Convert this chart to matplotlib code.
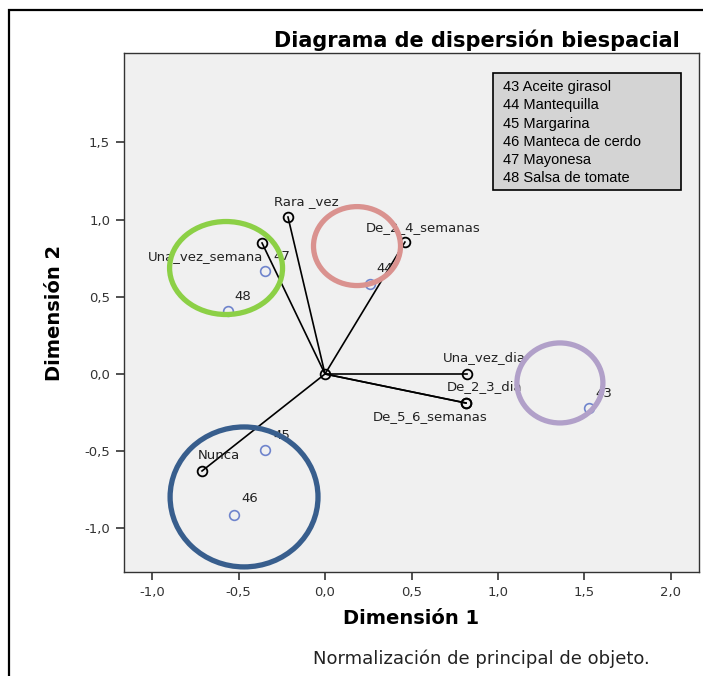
import matplotlib
matplotlib.use("Agg")
import matplotlib.pyplot as plt
from matplotlib.patches import Ellipse, Rectangle

# ---------------- data ----------------
cat_names = ["Rara _vez", "Una_vez_semana", "De_2_4_semanas", "Una_vez_dia",
             "De_2_3_dia", "De_5_6_semanas", "Nunca"]
cat_x = [-0.214, -0.364, 0.462, 0.821, 0.815, 0.815, -0.711]
cat_y = [1.016, 0.848, 0.854, 0.000, -0.188, -0.188, -0.628]

obj_names = ["43", "44", "45", "46", "47", "48"]
obj_x = [1.526, 0.260, -0.347, -0.526, -0.347, -0.561]
obj_y = [-0.220, 0.583, -0.492, -0.913, 0.667, 0.408]

legend_lines = ["43 Aceite girasol", "44 Mantequilla", "45 Margarina",
                "46 Manteca de cerdo", "47 Mayonesa", "48 Salsa de tomate"]

# highlight ellipses: center x, center y, width, height
ell_cx = [-0.572, 0.185, 1.358, -0.468]
ell_cy = [0.686, 0.828, -0.058, -0.796]
ell_w = [0.653, 0.503, 0.497, 0.855]
ell_h = [0.602, 0.511, 0.518, 0.906]
ell_colors = ["#8cd046", "#da928f", "#b1a0c9", "#385e8d"]

x_ticks = [-1.0, -0.5, 0.0, 0.5, 1.0, 1.5, 2.0]
y_ticks = [-1.0, -0.5, 0.0, 0.5, 1.0, 1.5]

# label offsets in pixels (style)
cat_off = {"Rara _vez": (18, 16), "Una_vez_semana": (-56, -14),
           "De_2_4_semanas": (18, 15), "Una_vez_dia": (17, 16),
           "De_2_3_dia": (19, 16), "De_5_6_semanas": (-36, -14), "Nunca": (17, 15)}
obj_off = {"43": (15, 14), "44": (15, 15), "45": (17, 14),
           "46": (16, 17), "47": (17, 14), "48": (15, 14)}

# ---------------- figure ----------------
fig = plt.figure(figsize=(7.03, 6.76), dpi=100)
fig.patch.set_facecolor("white")

# outer frame (only left and top edges visible)
fig.patches.append(Rectangle((9 / 703, -0.05), 1.0, 1.05 - 10 / 676,
                             transform=fig.transFigure, fill=False,
                             edgecolor="black", linewidth=1.6))

ax = fig.add_axes([124 / 703, 1 - 572 / 676, 575 / 703, 519 / 676])
ax.set_facecolor("#f0f0f0")
ax.set_xlim(-1.162, 2.162)
ax.set_ylim(-1.282, 2.078)

# vectors from origin
for x, y in zip(cat_x, cat_y):
    ax.plot([0, x], [0, y], color="black", linewidth=1.2, zorder=2)

ax.plot([0], [0], marker="o", markersize=7, markerfacecolor="none",
        markeredgecolor="black", markeredgewidth=1.3, zorder=3)
ax.plot(cat_x, cat_y, linestyle="none", marker="o", markersize=7,
        markerfacecolor="none", markeredgecolor="black", markeredgewidth=1.3, zorder=3)
ax.plot(obj_x, obj_y, linestyle="none", marker="o", markersize=7,
        markerfacecolor="none", markeredgecolor="#6f84cc", markeredgewidth=1.2, zorder=3)

lab_font = dict(fontsize=9.5, color="#222222", ha="center", va="center",
                family="DejaVu Sans")
for n, x, y in zip(cat_names, cat_x, cat_y):
    ax.annotate(n, (x, y), xytext=cat_off[n], textcoords="offset pixels",
                zorder=4, **lab_font)
for n, x, y in zip(obj_names, obj_x, obj_y):
    ax.annotate(n, (x, y), xytext=obj_off[n], textcoords="offset pixels",
                zorder=4, **lab_font)

for cx, cy, w, h, c in zip(ell_cx, ell_cy, ell_w, ell_h, ell_colors):
    ax.add_patch(Ellipse((cx, cy), w, h, fill=False, edgecolor=c,
                         linewidth=3.8, zorder=5))

ax.set_xticks(x_ticks)
ax.set_yticks(y_ticks)
ax.set_xticklabels([f"{v:.1f}".replace(".", ",") for v in x_ticks])
ax.set_yticklabels([f"{v:.1f}".replace(".", ",") for v in y_ticks])
ax.tick_params(direction="out", length=6, width=1.2, labelsize=9.5,
               colors="#333333", pad=4)
for s in ax.spines.values():
    s.set_linewidth(1.0)
    s.set_color("#333333")

ax.set_xlabel("Dimensión 1", fontsize=14, fontweight="bold", labelpad=7)
ax.set_ylabel("Dimensión 2", fontsize=14, fontweight="bold", labelpad=15)

fig.text(680 / 703, 1 - 47 / 676, "Diagrama de dispersión biespacial",
         ha="right", va="baseline", fontsize=15, fontweight="bold")
fig.text(481 / 703, 1 - 659 / 676, "Normalización de principal de objeto.",
         ha="center", va="center", fontsize=13, color="#222222")

# legend box
fig.patches.append(Rectangle((493 / 703, 1 - 190 / 676), 188 / 703, 117 / 676,
                             transform=fig.transFigure, facecolor="#d4d4d4",
                             edgecolor="black", linewidth=1.2, zorder=6))
for i, t in enumerate(legend_lines):
    fig.text(503 / 703, 1 - (87 + i * 18.3) / 676, t, ha="left", va="center",
             fontsize=10.5, family="Liberation Sans", zorder=7)

fig.savefig("out.png", dpi=100)
